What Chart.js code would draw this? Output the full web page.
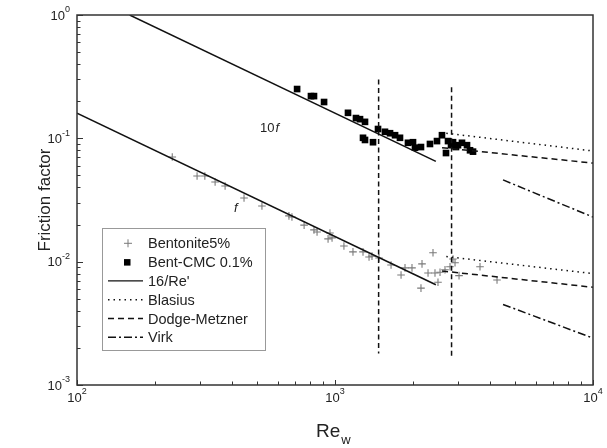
<!DOCTYPE html>
<html>
<head>
<meta charset="utf-8">
<script src="https://cdn.jsdelivr.net/npm/chart.js@4.4.1/dist/chart.umd.min.js"></script>
<style>
  html, body { margin: 0; padding: 0; background: #fff; }
</style>
</head>
<body>
<canvas id="frictionChart" width="607" height="448"></canvas>
<script>
// Bentonite 5% : Re_w and f
const bentRe = [234, 292, 313, 343, 375, 444, 521, 663, 681, 759, 829, 852, 956, 940, 974,
  1083, 1174, 1284, 1355, 1391, 1481, 1649, 1803, 1868, 1988, 2154, 2174, 2294, 2398, 2441,
  2507, 2553, 2669, 2791, 2867, 2919, 3025, 3648, 4246];
const bentF = [0.0706, 0.0495, 0.0495, 0.0442, 0.0411, 0.0328, 0.0283, 0.0235, 0.0230, 0.0198,
  0.0181, 0.0174, 0.0171, 0.0153, 0.0156, 0.0134, 0.0120, 0.0120, 0.0109, 0.0111, 0.0107,
  0.0094, 0.0078, 0.0089, 0.0089, 0.0061, 0.0096, 0.0081, 0.0118, 0.0081, 0.0068, 0.0082,
  0.0086, 0.0091, 0.0105, 0.0098, 0.0077, 0.0091, 0.0071];

// Bent-CMC 0.1% : Re_w and 10f
const cmcRe = [713, 807, 829, 907, 1123, 1206, 1250, 1307, 1284, 1307, 1404, 1468, 1562, 1634,
  1709, 1786, 1918, 2006, 2042, 2154, 2334, 2485, 2598, 2693, 2742, 2817, 2867, 2944, 2997,
  3106, 3248, 3337, 3427];
const cmcF10 = [0.251, 0.220, 0.220, 0.197, 0.161, 0.146, 0.143, 0.136, 0.101, 0.097, 0.093,
  0.119, 0.113, 0.110, 0.106, 0.101, 0.092, 0.093, 0.084, 0.085, 0.090, 0.095, 0.106, 0.076,
  0.095, 0.088, 0.093, 0.085, 0.088, 0.092, 0.088, 0.080, 0.078];

// model curves (end points on log-log axes)
const lamRe = [100, 2460];     const lamF = [0.16, 0.0065];
const lamRe10 = [160, 2460];   const lamF10 = [1.0, 0.065];
const blaRe = [2700, 10000];   const blaF = [0.011, 0.0080];  const blaF10 = [0.110, 0.079];
const dmRe = [2600, 10000];    const dmF = [0.0084, 0.0062];  const dmF10 = [0.084, 0.063];
const virkRe = [4480, 10000];  const virkF = [0.0045, 0.0024]; const virkF10 = [0.046, 0.023];

// transition markers
const transRe = [1476, 2830];
const transTop = [0.30, 0.26];
const transBottom = [0.0018, 0.0017];

// axis ticks
const xTicks = [100, 1000, 10000];
const xTickExp = ['2', '3', '4'];
const yTicks = [1, 0.1, 0.01, 0.001];
const yTickExp = ['0', '-1', '-2', '-3'];

const legendLabels = ['Bentonite5%', 'Bent-CMC 0.1%', "16/Re'", 'Blasius', 'Dodge-Metzner', 'Virk'];

const FONT = '"Liberation Sans", Arial, sans-serif';
const pts = (xs, ys) => xs.map((x, i) => ({ x: x, y: ys[i] }));

const lineSet = (data, dash) => ({
  type: 'line', data: data, showLine: true, pointRadius: 0, borderColor: '#111',
  borderWidth: 1.5, borderDash: dash, fill: false, tension: 0
});

const datasets = [
  lineSet(pts(lamRe, lamF), []),
  lineSet(pts(lamRe10, lamF10), []),
  lineSet(pts(blaRe, blaF), [1.5, 4]),
  lineSet(pts(blaRe, blaF10), [1.5, 4]),
  lineSet(pts(dmRe, dmF), [6, 4]),
  lineSet(pts(dmRe, dmF10), [6, 4]),
  lineSet(pts(virkRe, virkF), [8, 3, 2, 3]),
  lineSet(pts(virkRe, virkF10), [8, 3, 2, 3]),
  lineSet(pts([transRe[0], transRe[0]], [transTop[0], transBottom[0]]), [5, 3.5]),
  lineSet(pts([transRe[1], transRe[1]], [transTop[1], transBottom[1]]), [5, 3.5]),
  {
    type: 'scatter', data: pts(bentRe, bentF), pointStyle: 'cross', pointRadius: 3.8,
    borderColor: '#7a7a7a', borderWidth: 1.1, backgroundColor: '#7a7a7a'
  },
  {
    type: 'scatter', data: pts(cmcRe, cmcF10), pointStyle: 'rect', pointRadius: 4.7,
    borderColor: '#000', borderWidth: 0, backgroundColor: '#000'
  }
];

function drawPow(ctx, exp, x, y, align) {
  ctx.font = '13px ' + FONT;
  const w1 = ctx.measureText('10').width;
  ctx.font = '9px ' + FONT;
  const w2 = ctx.measureText(exp).width;
  const left = align === 'right' ? x - w1 - w2 : x - (w1 + w2) / 2;
  ctx.textAlign = 'left';
  ctx.textBaseline = 'middle';
  ctx.font = '13px ' + FONT;
  ctx.fillText('10', left, y);
  ctx.font = '9px ' + FONT;
  ctx.fillText(exp, left + w1, y - 6);
}

const decor = {
  id: 'decor',
  afterDatasetsDraw(chart) {
    const { ctx, chartArea: a, scales: { x, y } } = chart;
    ctx.save();
    ctx.strokeStyle = '#333';
    ctx.lineWidth = 1.5;
    ctx.setLineDash([]);
    ctx.strokeRect(a.left, a.top, a.right - a.left, a.bottom - a.top);

    // inward ticks
    ctx.lineWidth = 1;
    ctx.beginPath();
    for (let d = 2; d <= 4; d++) {
      for (let m = 1; m <= 9; m++) {
        const v = m * Math.pow(10, d);
        if (v > 10000) break;
        const px = Math.round(x.getPixelForValue(v)) + 0.5;
        const len = m === 1 ? 5 : 3.5;
        ctx.moveTo(px, a.bottom);
        ctx.lineTo(px, a.bottom - len);
      }
    }
    for (let d = -3; d <= 0; d++) {
      for (let m = 1; m <= 9; m++) {
        const v = m * Math.pow(10, d);
        if (v > 1) break;
        const py = Math.round(y.getPixelForValue(v)) + 0.5;
        const len = m === 1 ? 6 : 3.5;
        ctx.moveTo(a.left, py);
        ctx.lineTo(a.left + len, py);
      }
    }
    ctx.stroke();

    // tick labels
    ctx.fillStyle = '#222';
    xTicks.forEach((v, i) => drawPow(ctx, xTickExp[i], x.getPixelForValue(v), a.bottom + 13, 'center'));
    yTicks.forEach((v, i) => drawPow(ctx, yTickExp[i], a.left - 7, y.getPixelForValue(v) + 1, 'right'));

    // axis titles
    ctx.font = '19px ' + FONT;
    ctx.textBaseline = 'alphabetic';
    ctx.textAlign = 'left';
    ctx.fillText('Re', 316, 437);
    const reW = ctx.measureText('Re').width;
    ctx.font = '13px ' + FONT;
    ctx.fillText('w', 316 + reW + 1, 444);

    ctx.save();
    ctx.translate(45, 200);
    ctx.rotate(-Math.PI / 2);
    ctx.font = '17px ' + FONT;
    ctx.textAlign = 'center';
    ctx.textBaseline = 'middle';
    ctx.fillText('Friction factor', 0, 0);
    ctx.restore();

    // curve annotations
    ctx.font = '13px ' + FONT;
    ctx.textAlign = 'left';
    ctx.textBaseline = 'middle';
    ctx.fillText('10', 260, 128);
    const w10 = ctx.measureText('10').width;
    ctx.font = 'italic 13px ' + FONT;
    ctx.fillText('f', 260 + w10 + 1, 128);
    ctx.fillText('f', 234, 208);

    // legend
    const lx = 102, ly = 228, lw = 163, lh = 122;
    ctx.fillStyle = '#fff';
    ctx.fillRect(lx, ly, lw, lh);
    ctx.strokeStyle = '#999';
    ctx.lineWidth = 1;
    ctx.strokeRect(lx + 0.5, ly + 0.5, lw, lh);
    const dashes = [null, null, [], [1.5, 4], [6, 4], [8, 3, 2, 3]];
    legendLabels.forEach((label, i) => {
      const cy = 243.3 + i * 18.8;
      ctx.setLineDash([]);
      if (i === 0) {
        ctx.strokeStyle = '#7a7a7a';
        ctx.beginPath();
        ctx.moveTo(124, cy); ctx.lineTo(132, cy);
        ctx.moveTo(128, cy - 4); ctx.lineTo(128, cy + 4);
        ctx.stroke();
      } else if (i === 1) {
        ctx.fillStyle = '#000';
        ctx.fillRect(124, cy - 3, 6.5, 6.5);
      } else {
        ctx.strokeStyle = '#111';
        ctx.lineWidth = 1.4;
        ctx.setLineDash(dashes[i]);
        ctx.beginPath();
        ctx.moveTo(108, cy); ctx.lineTo(143, cy);
        ctx.stroke();
        ctx.lineWidth = 1;
      }
      ctx.setLineDash([]);
      ctx.fillStyle = '#222';
      ctx.font = '14.5px ' + FONT;
      ctx.textAlign = 'left';
      ctx.textBaseline = 'middle';
      ctx.fillText(label, 148, cy + 1);
    });
    ctx.restore();
  }
};

new Chart(document.getElementById('frictionChart'), {
  type: 'scatter',
  data: { datasets: datasets },
  options: {
    responsive: false,
    animation: false,
    layout: { padding: { left: 77, right: 14, top: 15, bottom: 63 } },
    scales: {
      x: { type: 'logarithmic', min: 100, max: 10000, display: false },
      y: { type: 'logarithmic', min: 0.001, max: 1, display: false }
    },
    plugins: {
      legend: { display: false },
      tooltip: { enabled: false }
    }
  },
  plugins: [decor]
});
</script>
</body>
</html>
